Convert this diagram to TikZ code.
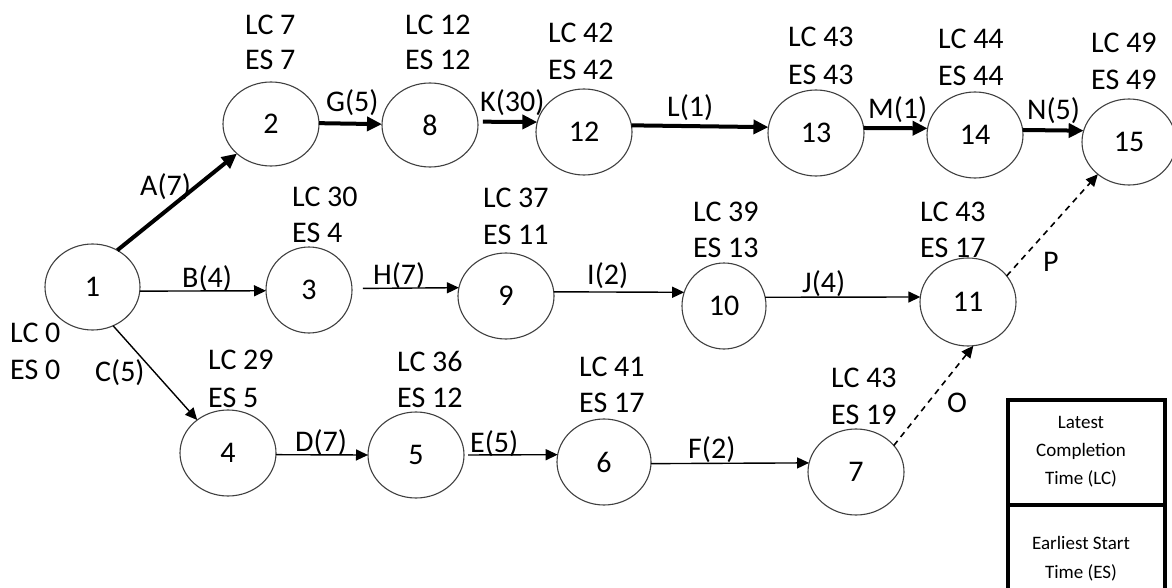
\documentclass[tikz,border=0pt]{standalone}
\usepackage{fontspec}
\setmainfont{Carlito}
\usetikzlibrary{shapes.geometric,arrows.meta}
\begin{document}
\begin{tikzpicture}[x=1pt,y=-1pt,
  ev/.style={draw=black!75, line width=1.1pt, ellipse, inner sep=0pt, outer sep=0pt,
    minimum width=96pt, minimum height=86pt, font=\fontsize{30}{36}\selectfont},
  lab/.style={anchor=west, inner sep=0pt, text height=19.3pt, text depth=0pt,
    font=\fontsize{30}{36}\selectfont},
  act/.style={line width=1.4pt, -{Triangle[length=12pt,width=11pt]}},
  crit/.style={line width=4pt, -{Triangle[length=15pt,width=14pt]}},
  dum/.style={line width=1.6pt, dash pattern=on 6pt off 5pt, -{Triangle[length=12pt,width=11pt]}},
  leg/.style={align=center, inner sep=0pt}
]
\useasboundingbox (0,0) rectangle (1172,588);
\clip (0,0) rectangle (1172,588);
\fill[white] (0,0) rectangle (1172,588);

% events
\node[ev, minimum width=95pt] (n1) at (92.5,287) {1};
\node[ev, minimum height=84pt] (n2) at (271,124) {2};
\node[ev, minimum height=84pt] (n8) at (430,125) {8};
\node[ev] (n12) at (584,132) {12};
\node[ev] (n13) at (816,133) {13};
\node[ev] (n14) at (975,135) {14};
\node[ev, minimum width=94pt] (n15) at (1129,142) {15};
\node[ev, minimum width=86pt] (n3) at (309,290) {3};
\node[ev] (n9) at (506,296) {9};
\node[ev, minimum width=84pt] (n10) at (724,306) {10};
\node[ev, minimum height=88pt] (n11) at (968,302) {11};
\node[ev] (n4) at (228,453) {4};
\node[ev] (n5) at (416,455) {5};
\node[ev, minimum width=94pt] (n6) at (604,462) {6};
\node[ev] (n7) at (856,472) {7};

% LC / ES labels
\node[lab] (lc1) at (10,333) {LC 0};   \node[lab] (es1) at (10,370) {ES 0};
\node[lab] (lc2) at (245,25) {LC 7};   \node[lab] (es2) at (245,60) {ES 7};
\node[lab] (lc8) at (405,25) {LC 12};  \node[lab] (es8) at (405,60) {ES 12};
\node[lab] (lc12) at (548,33) {LC 42}; \node[lab] (es12) at (548,70) {ES 42};
\node[lab] (lc13) at (788,37) {LC 43}; \node[lab] (es13) at (788,75) {ES 43};
\node[lab] (lc14) at (938,39) {LC 44}; \node[lab] (es14) at (938,76) {ES 44};
\node[lab] (lc15) at (1091,43) {LC 49};\node[lab] (es15) at (1091,80) {ES 49};
\node[lab] (lc3) at (292,197) {LC 30}; \node[lab] (es3) at (292,233) {ES 4};
\node[lab] (lc9) at (483,198) {LC 37}; \node[lab] (es9) at (483,235) {ES 11};
\node[lab] (lc10) at (693,212) {LC 39};\node[lab] (es10) at (693,248) {ES 13};
\node[lab] (lc11) at (920,212) {LC 43};\node[lab] (es11) at (920,248) {ES 17};
\node[lab] (lc4) at (208,360) {LC 29}; \node[lab] (es4) at (208,398) {ES 5};
\node[lab] (lc5) at (397,362) {LC 36}; \node[lab] (es5) at (397,398) {ES 12};
\node[lab] (lc6) at (579,367) {LC 41}; \node[lab] (es6) at (579,403) {ES 17};
\node[lab] (lc7) at (831,378) {LC 43}; \node[lab] (es7) at (831,415) {ES 19};

% activity labels
\node[lab] (la) at (140,186) {A(7)};
\node[lab] (lb) at (182,278) {B(4)};
\node[lab] (lcc) at (95,372) {C(5)};
\node[lab] (ld) at (295,442) {D(7)};
\node[lab] (le) at (470,443) {E(5)};
\node[lab] (lf) at (688,449) {F(2)};
\node[lab] (lg) at (326,102) {G(5)};
\node[lab] (lk) at (480,102) {K(30)};
\node[lab] (ll) at (667,107) {L(1)};
\node[lab] (lm) at (868,109) {M(1)};
\node[lab] (ln) at (1027,110) {N(5)};
\node[lab] (lh) at (373,275) {H(7)};
\node[lab] (li) at (587,275) {I(2)};
\node[lab] (lj) at (802,283) {J(4)};
\node[lab] (lo) at (947,403) {O};
\node[lab] (lp) at (1043,262) {P};

% critical path
\draw[crit] (n1.56) -- (n2.221);
\draw[crit] (n2.1) -- (n8.179);
\draw[crit, shorten <=5pt] (n8.4) -- (n12.168);
\draw[crit] (n12.8) -- (n13.173);
\draw[crit] (n13.6) -- (n14.172);
\draw[crit] (n14.6) -- (n15.166);

% other activities
\draw[act] (n1.355) -- (n3.181);
\draw[act] (n1.298) -- (n4.133);
\draw[act, shorten <=11pt] (n3.2) -- (n9.170);
\draw[act] (n9.5) -- (n10.161);
\draw[act] (n10.12) -- (n11.174);
\draw[act] (n4.358) -- (n5.180);
\draw[act, shorten <=4pt] (n5.0) -- (n6.171);
\draw[act] (n6.358) -- (n7.169);

% dummies
\draw[dum] (n7.35) -- (n11.277);
\draw[dum] (n11.34) -- (n15.226);

% legend
\draw[line width=4pt] (1008,400) rectangle (1165,610);
\draw[line width=4pt] (1008,505) -- (1165,505);
\node[leg, font=\fontsize{19}{28}\selectfont] (lg1) at (1081,452) {Latest\\Completion\\Time (LC)};
\node[leg, font=\fontsize{19}{29}\selectfont] (lg2) at (1081,559) {Earliest Start\\Time (ES)};
\end{tikzpicture}
\end{document}
